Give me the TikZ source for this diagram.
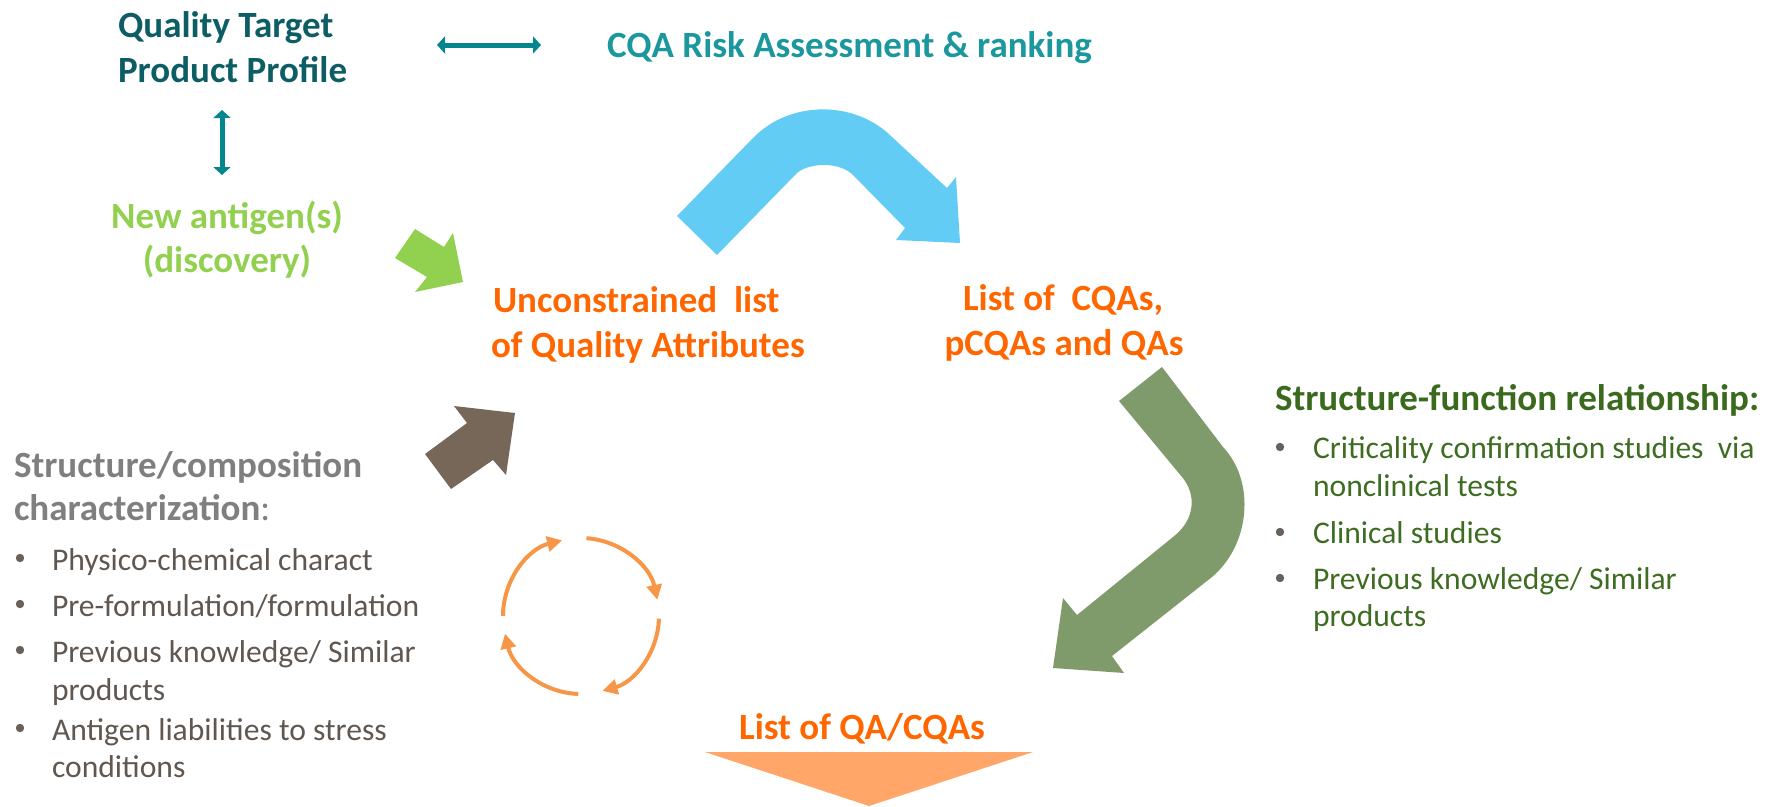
\documentclass[tikz,border=0pt]{standalone}
\usepackage{fontspec}
\setmainfont{Carlito}
\usetikzlibrary{arrows.meta}
\definecolor{qtpp}{HTML}{0C5D64}
\definecolor{cqatxt}{HTML}{1B979E}
\definecolor{tealarr}{HTML}{05868F}
\definecolor{newgreen}{HTML}{92D050}
\definecolor{orangetxt}{HTML}{FF6600}
\definecolor{bluearr}{HTML}{62CCF4}
\definecolor{brownarr}{HTML}{766759}
\definecolor{biggreen}{HTML}{7F9B6B}
\definecolor{sfhead}{HTML}{3B6A1E}
\definecolor{sftxt}{HTML}{3E6D22}
\definecolor{dotcol}{HTML}{68605A}
\definecolor{lefthead}{HTML}{7F7F7F}
\definecolor{lefttxt}{HTML}{5F5750}
\definecolor{cyccol}{HTML}{F79646}
\definecolor{tricol}{HTML}{FFA668}
\newcommand\headfont{\fontsize{37}{44}\selectfont\bfseries}
\newcommand\bodyfont{\fontsize{31.6}{38}\selectfont}
\begin{document}
\begin{tikzpicture}[x=1pt,y=-1pt,
  lbl/.style={inner sep=0pt,outer sep=0pt,anchor=base west},
  clbl/.style={inner sep=0pt,outer sep=0pt,anchor=base},
  hd/.style={font=\headfont},
  bd/.style={font=\bodyfont},
  dbl/.style={draw=tealarr,line width=5pt,
    {Triangle[length=8pt,width=17pt]}-{Triangle[length=8pt,width=17pt]}},
  cyc/.style={draw=cyccol,line width=4pt,-{Triangle[length=15pt,width=15pt]}},
  bdot/.style={circle,fill=dotcol,inner sep=0pt,minimum size=8.4pt}]
\useasboundingbox (0,0) rectangle (1769,806);

% top-left texts
\node[lbl,hd,text=qtpp] (qt1) at (118,37) {Quality Target};
\node[lbl,hd,text=qtpp] (qt2) at (118,82) {Product Profile};
\node[lbl,hd,text=cqatxt] (cqa) at (607,57) {CQA Risk Assessment \& ranking};
\node[clbl,hd,text=newgreen] (na1) at (227,228) {New antigen(s)};
\node[clbl,hd,text=newgreen] (na2) at (227,272) {(discovery)};

% teal double arrows
\coordinate (ha) at (437,45);
\coordinate (hb) at (541,45);
\coordinate (va) at (222,110);
\coordinate (vb) at (222,175);
\draw[dbl] (ha) -- (hb);
\draw[dbl] (va) -- (vb);

% middle texts
\node[lbl,hd,text=orangetxt] (ul1) at (493,312) {Unconstrained\ \ list};
\node[lbl,hd,text=orangetxt] (ul2) at (491,357) {of Quality Attributes};
\node[clbl,hd,text=orangetxt] (lc1) at (1063,310) {List of\ \ CQAs,};
\node[clbl,hd,text=orangetxt] (lc2) at (1064,355) {pCQAs and QAs};
\node[clbl,hd,text=orangetxt] (lq) at (862,739) {List of QA/CQAs};

% blue curved arrow
\fill[bluearr] (677,216) -- (753,138) .. controls (790,100) and (855,100) .. (892,137)
  -- (947,188) -- (956,177) -- (960,243) -- (896,240) -- (905,228) -- (853,175)
  .. controls (840,162) and (810,162) .. (797,173) -- (717,255) -- cycle;

% small green arrow
\fill[newgreen] (415,229) -- (444,247) -- (453,233) -- (463,282) -- (415,292)
  -- (427,277) -- (395,258) -- cycle;

% brown arrow
\fill[brownarr] (425,454) -- (467,423) -- (454,406) -- (515,413) -- (506,475)
  -- (493,460) -- (451,489) -- cycle;

% big green curved arrow
\fill[biggreen] (1162,367) -- (1223,447) .. controls (1256,482) and (1250,545) .. (1212,577)
  -- (1112,656) -- (1124,673) -- (1053,668) -- (1063,598) -- (1077,615) -- (1173,537)
  .. controls (1195,520) and (1197,495) .. (1182,477) -- (1119,401) -- cycle;

% orange triangle
\fill[tricol] (705,752) -- (1033,752) -- (869,806) -- cycle;

% cycle arrows
\coordinate (cc) at (581,616);
\draw[cyc] (cc) ++(180:78pt) arc[start angle=180, end angle=104, radius=78pt];
\draw[cyc] (cc) ++(86:78pt) arc[start angle=86, end angle=12, radius=78pt];
\draw[cyc] (cc) ++(-2:78pt) arc[start angle=-2, end angle=-74, radius=78pt];
\draw[cyc] (cc) ++(-92:78pt) arc[start angle=-92, end angle=-167, radius=78pt];

% right block
\node[lbl,hd,text=sfhead] (sf) at (1275,410) {Structure-function relationship:};
\node[bdot] (rd1) at (1280,447) {};
\node[bdot] (rd2) at (1280,532) {};
\node[bdot] (rd3) at (1280,578) {};
\node[lbl,bd,text=sftxt] (r1a) at (1313,458) {Criticality confirmation studies\ \ via};
\node[lbl,bd,text=sftxt] (r1b) at (1313,496) {nonclinical tests};
\node[lbl,bd,text=sftxt] (r2) at (1313,543) {Clinical studies};
\node[lbl,bd,text=sftxt] (r3a) at (1313,589) {Previous knowledge/ Similar};
\node[lbl,bd,text=sftxt] (r3b) at (1313,626) {products};

% left block
\node[lbl,hd,text=lefthead] (sc1) at (14,477) {Structure/composition};
\node[lbl,text=lefthead,font=\fontsize{37}{44}\selectfont] (sc2) at (14,520) {\textbf{characterization}:};
\node[bdot] (ld1) at (20,558) {};
\node[bdot] (ld2) at (20,604) {};
\node[bdot] (ld3) at (20,650) {};
\node[bdot] (ld4) at (20,728) {};
\node[lbl,bd,text=lefttxt] (l1) at (52,570) {Physico-chemical charact};
\node[lbl,bd,text=lefttxt] (l2) at (52,616) {Pre-formulation/formulation};
\node[lbl,bd,text=lefttxt] (l3a) at (52,662) {Previous knowledge/ Similar};
\node[lbl,bd,text=lefttxt] (l3b) at (52,700) {products};
\node[lbl,bd,text=lefttxt] (l4a) at (52,740) {Antigen liabilities to stress};
\node[lbl,bd,text=lefttxt] (l4b) at (52,777) {conditions};
\end{tikzpicture}
\end{document}
